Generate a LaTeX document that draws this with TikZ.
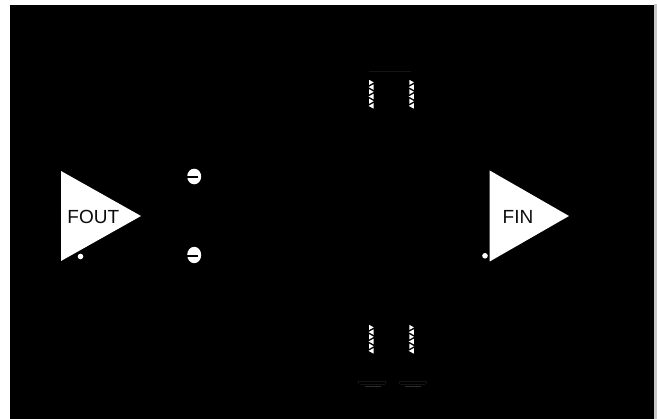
\documentclass[tikz,border=0pt]{standalone}
\usepackage{fontspec}
\setmainfont{Liberation Sans}
\colorlet{faint}{black!92!white}
\tikzset{
  x=1pt,y=-1pt,
  panel/.style={fill=black,draw=none},
  amp/.style={fill=white,draw=none},
  amplabel/.style={font=\fontsize{19}{21}\selectfont,text=black!95!white,inner sep=0pt},
  dotmark/.style={fill=white,draw=none},
  contact/.style={fill=white,draw=none},
  contactbar/.style={draw=black,line width=1.6pt},
  tooth/.style={fill=white,draw=none},
  faintline/.style={draw=faint,line width=0.7pt},
  faintbar/.style={draw=black!82!white,line width=1pt}
}
\newcommand{\teeth}[2]{%
  \foreach \i in {0,2,4}{%
    \fill[tooth] (#1-3.4,{#2+4.7*\i-2.6}) -- (#1+1.2,{#2+4.7*\i}) -- (#1-3.4,{#2+4.7*\i+2.6}) -- cycle;
    \fill[tooth] (#1+1.2,{#2+4.7*(\i+1)-2.8}) -- (#1-4,{#2+4.7*(\i+1)}) -- (#1+1.2,{#2+4.7*(\i+1)+2.8}) -- cycle;
  }}
\newcommand{\dish}[1]{%
  \draw[faintline] (#1,384) -- (#1,381) -- (#1+27,381) -- (#1+27,384);
  \draw[faintline] (#1+1,384) -- (#1+26,384);
  \draw[faintbar] (#1+6,387) -- (#1+22,387);
}
\begin{document}
\begin{tikzpicture}
\useasboundingbox (0,0) rectangle (657,419);
\fill[white] (0,0) rectangle (657,419);
\fill[black!22!white] (654,4.4) rectangle (657,419);
\fill[panel] (9.6,4.6) rectangle (654.2,419);
% amplifiers
\fill[amp] (61,171) -- (141,216) -- (61,261) -- cycle;
\fill[amp] (489.7,170.5) -- (569,216) -- (489.7,261.5) -- cycle;
\node[amplabel] (fout) at (93.3,217) {FOUT};
\node[amplabel] (fin) at (518,217) {FIN};
\fill[dotmark] (80.5,256.5) circle (2.8);
\fill[dotmark] (485,255.8) circle (2.8);
% contacts
\fill[contact] (194.2,176.5) ellipse (7 and 7.8);
\draw[contactbar] (186.5,177.2) -- (197.5,177.2);
\fill[contact] (194.2,255) ellipse (7 and 8.2);
\draw[contactbar] (186.5,255.8) -- (197.5,255.8);
% teeth
\teeth{372.5}{82.4}
\teeth{412.7}{82.4}
\teeth{372.5}{327.4}
\teeth{412.7}{327.4}
% faint traces
\draw[faintline] (369,71) -- (411,71);
\fill[faint] (397,56) circle (0.6);
\fill[faint] (425,56) circle (0.6);
\fill[faint] (30,216) circle (0.6);
\fill[faint] (58,216) circle (0.6);
\fill[faint] (600,216) circle (0.7);
\dish{358.5}
\dish{399}
\end{tikzpicture}
\end{document}
